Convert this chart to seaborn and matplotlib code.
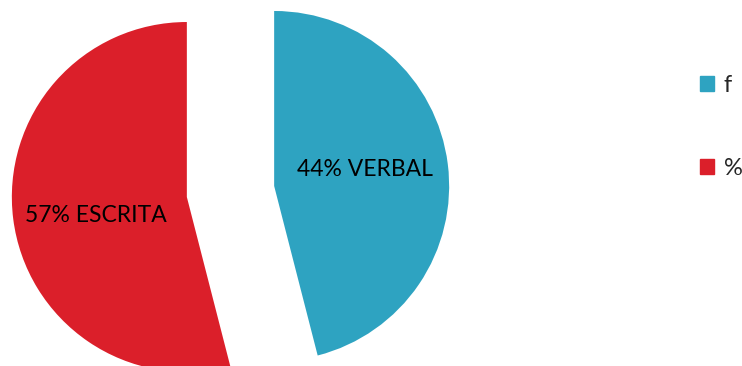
import matplotlib
matplotlib.use("Agg")
import matplotlib.pyplot as plt
import matplotlib.patches as mpatches
import seaborn as sns

# Data
categories = ["VERBAL", "ESCRITA"]
shares = [46, 54]                      # slice sizes
label_texts = ["44% VERBAL", "57% ESCRITA"]
legend_labels = ["f", "%"]

sns.set_theme(style="white")
plt.rcParams['font.family'] = ['Lato', 'DejaVu Sans']

colors = ["#2EA3C1", "#DB1F2A"]

W, H = 742, 366
fig = plt.figure(figsize=(W / 100, H / 100), dpi=100)
ax = fig.add_axes([0, 0, 1, 1])

R = 175
cx, cy = 230.5, H - 191.5
wedges, _ = ax.pie(shares, colors=colors, startangle=90, counterclock=False,
                   explode=[44, 44], radius=R, center=(cx, cy),
                   wedgeprops=dict(linewidth=0))

ax.set_xlim(0, W)
ax.set_ylim(0, H)
ax.set_aspect('equal')
ax.axis('off')

# slice labels
ax.text(365, H - 170, label_texts[0], ha='center', va='center', fontsize=16.5, color='black')
ax.text(96, H - 216, label_texts[1], ha='center', va='center', fontsize=16.5, color='black')

handles = [mpatches.Patch(color=c) for c in colors]
ax.legend(handles, legend_labels, loc='upper left', bbox_to_anchor=(679 / W, 1 - 54 / H),
          frameon=False, fontsize=17, handlelength=0.6, handleheight=0.6,
          handletextpad=0.4, labelspacing=2.6)

fig.savefig("out.png", dpi=100)
